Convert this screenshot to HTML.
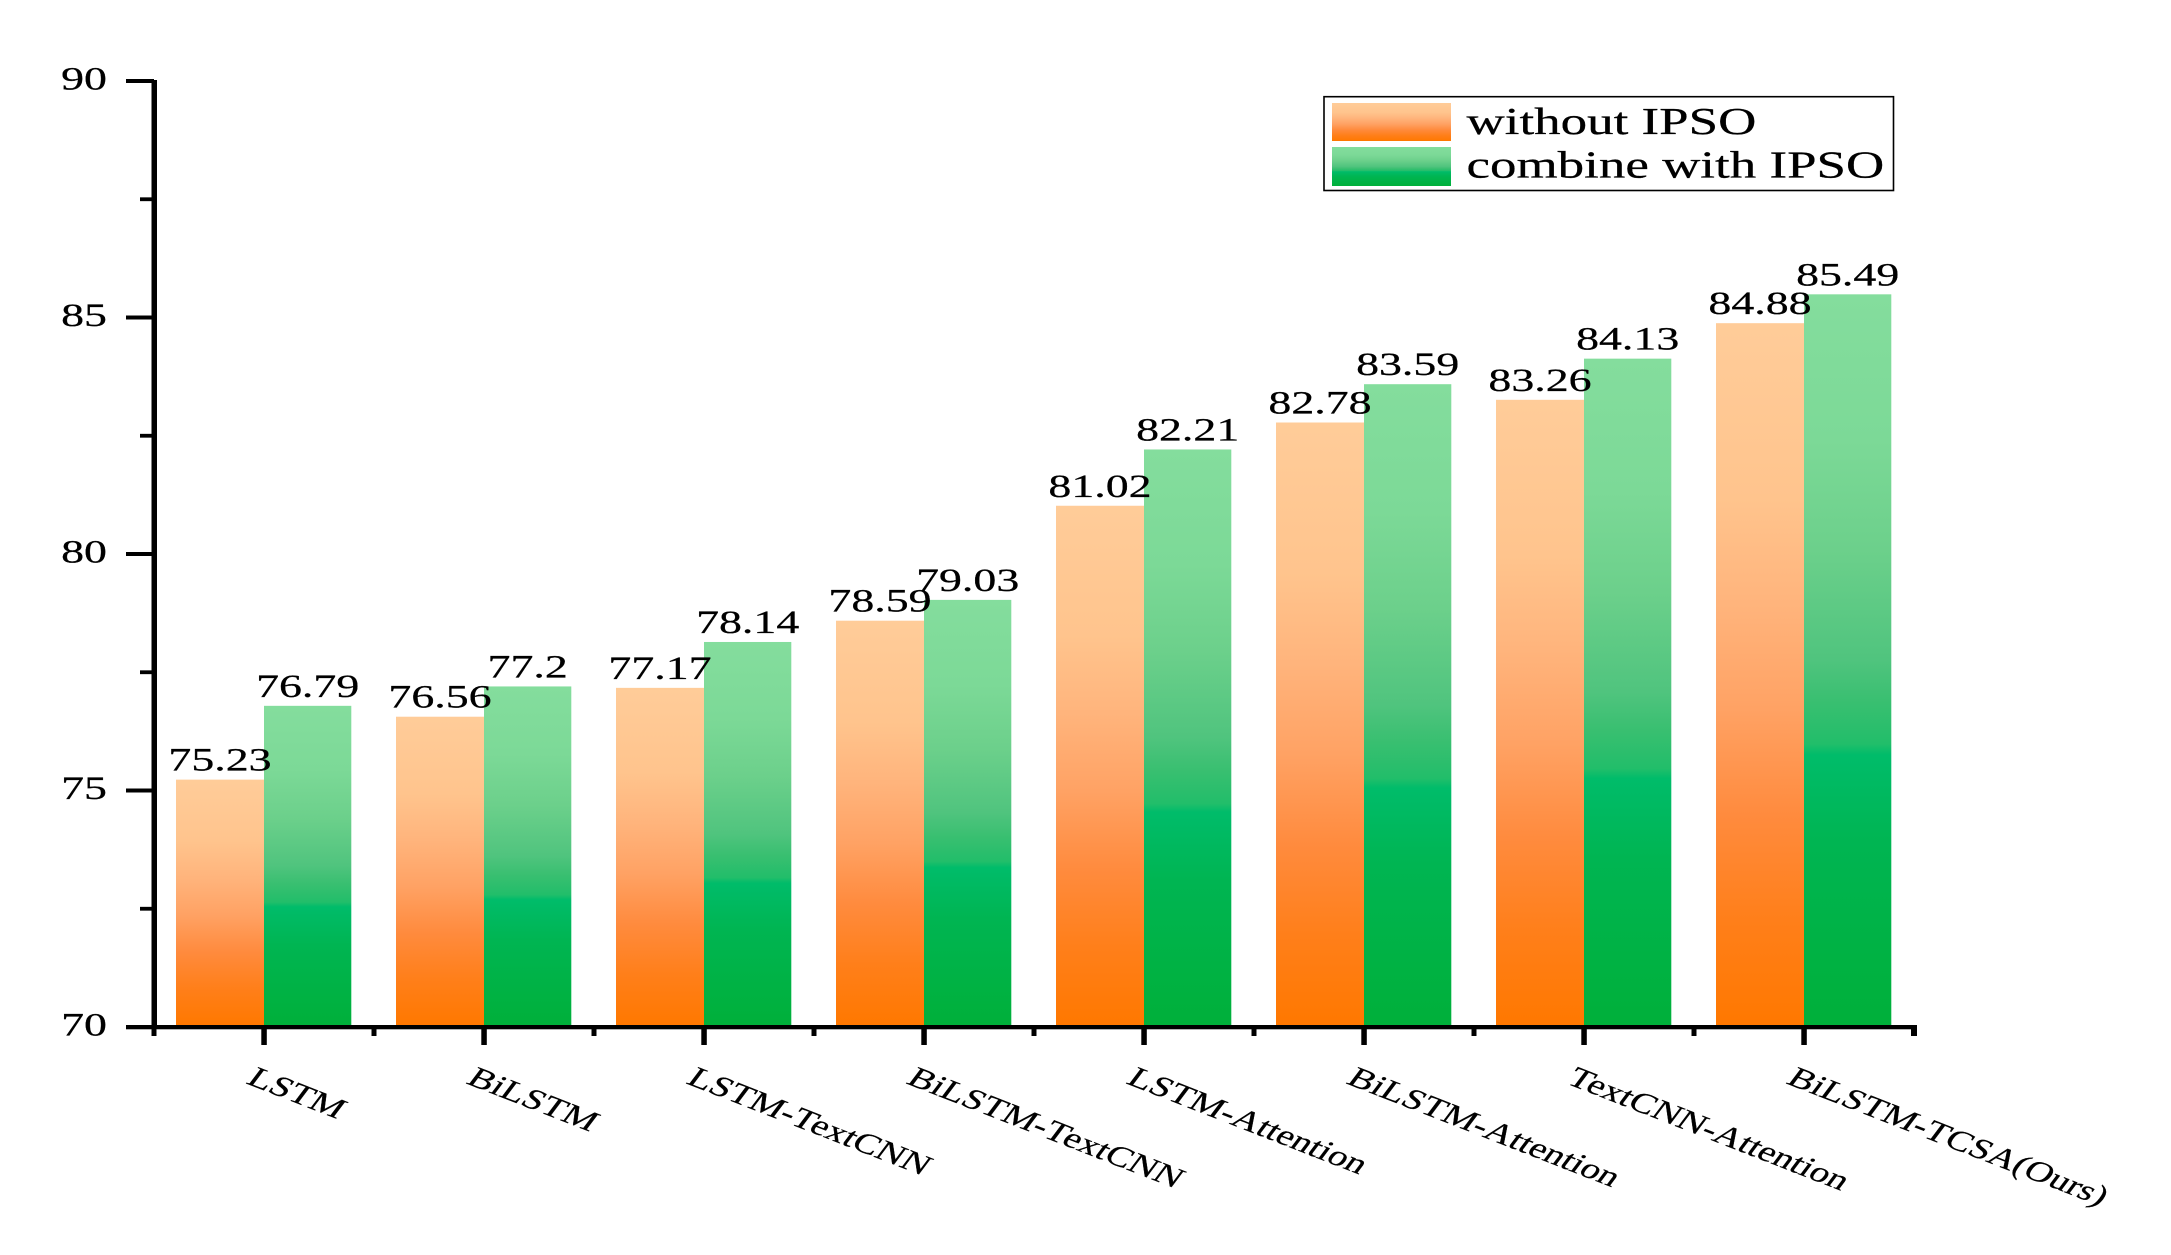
<!DOCTYPE html>
<html lang="en">
<head>
<meta charset="utf-8">
<title>Model comparison with and without IPSO</title>
<style>
  html, body { margin: 0; padding: 0; background: #fff; }
  svg { display: block; font-family: "Liberation Serif", serif; fill: #000; }
  text { stroke: #000; stroke-width: 0.25; }
</style>
</head>
<body>
<svg id="chart" xmlns="http://www.w3.org/2000/svg" width="2171" height="1255" viewBox="0 0 2171 1255">
  <defs>
    <linearGradient id="grad-orange" x1="0" y1="0" x2="0" y2="1">
      <stop offset="0" stop-color="#FFCC99"/>
      <stop offset="0.25" stop-color="#FFC48D"/>
      <stop offset="0.4" stop-color="#FFB47C"/>
      <stop offset="0.55" stop-color="#FFA264"/>
      <stop offset="0.7" stop-color="#FF8B3E"/>
      <stop offset="0.85" stop-color="#FF7F1A"/>
      <stop offset="1" stop-color="#FF7800"/>
    </linearGradient>
    <linearGradient id="grad-green" x1="0" y1="0" x2="0" y2="1">
      <stop offset="0" stop-color="#84DD9D"/>
      <stop offset="0.2" stop-color="#7CD997"/>
      <stop offset="0.35" stop-color="#6CD08B"/>
      <stop offset="0.5" stop-color="#50C47E"/>
      <stop offset="0.56" stop-color="#38BF70"/>
      <stop offset="0.615" stop-color="#22BE6A"/>
      <stop offset="0.63" stop-color="#00BC6A"/>
      <stop offset="0.75" stop-color="#00B552"/>
      <stop offset="1" stop-color="#00B03A"/>
    </linearGradient>
  </defs>
  <g id="bars"></g>
  <g id="value-labels"></g>
  <g id="axes"></g>
  <g id="legend">
    <rect x="1324" y="96.7" width="569.5" height="93.8" fill="#fff" stroke="#000" stroke-width="1.6"/>
    <rect x="1332" y="103" width="119" height="38" fill="url(#grad-orange)"/>
    <rect x="1332" y="147" width="119" height="39" fill="url(#grad-green)"/>
    <text transform="translate(1466.5 134) scale(1.39 1)" font-size="38.1">without IPSO</text>
    <text transform="translate(1466.5 177.3) scale(1.39 1)" font-size="38.1">combine with IPSO</text>
  </g>
</svg>
<script>
const categories = ["LSTM", "BiLSTM", "LSTM-TextCNN", "BiLSTM-TextCNN", "LSTM-Attention", "BiLSTM-Attention", "TextCNN-Attention", "BiLSTM-TCSA(Ours)"];
const withoutIpso = [75.23, 76.56, 77.17, 78.59, 81.02, 82.78, 83.26, 84.88];
const withIpso = [76.79, 77.2, 78.14, 79.03, 82.21, 83.59, 84.13, 85.49];
const yMajorTicks = [70, 75, 80, 85, 90];
const yMinorTicks = [72.5, 77.5, 82.5, 87.5];

const NS = "http://www.w3.org/2000/svg";
const STRETCH = 1.39;
const yAxis = v => 1027 - (v - 70) * 47.3;
const xCenter = i => 264 + i * 220;
const ORANGE_W = 88;
const GREEN_W = 87.3;
const BASE_Y = 1025;

function make(tag, attrs, parent, text) {
  const el = document.createElementNS(NS, tag);
  for (const k in attrs) el.setAttribute(k, attrs[k]);
  if (text !== undefined) el.textContent = text;
  parent.appendChild(el);
  return el;
}

const barsG = document.getElementById("bars");
const labelsG = document.getElementById("value-labels");
const axesG = document.getElementById("axes");

function drawBar(i, v, left, fill, key) {
  const y = yAxis(v);
  const w = left ? ORANGE_W : GREEN_W;
  const x = left ? xCenter(i) - ORANGE_W : xCenter(i);
  const r = make("rect", { x: x, y: y, width: w, height: Math.max(0, BASE_Y - y), fill: fill }, barsG);
  
  
  r.setAttribute('data-series', key);
  const t = make("text", { transform: "translate(" + (x + w / 2) + " " + (y - 9) + ") scale(" + STRETCH + " 1)", "text-anchor": "middle", "font-size": 33 }, labelsG, String(v));
  
  
}

categories.forEach((c, i) => {
  drawBar(i, withoutIpso[i], true, "url(#grad-orange)", "without-ipso");
  drawBar(i, withIpso[i], false, "url(#grad-green)", "combine-with-ipso");
});

const yLine = make("rect", { x: 151.5, y: 80, width: 5.5, height: 949 }, axesG);


const xLine = make("rect", { x: 126, y: 1025, width: 1791, height: 4.3 }, axesG);



yMajorTicks.forEach(v => {
  const y = yAxis(v);
  const tick = make("rect", { x: 126, y: y - 2, width: 28, height: 4 }, axesG);
  
  
  const t = make("text", { transform: "translate(84 " + (y + 8.5) + ") scale(" + STRETCH + " 1)", "text-anchor": "middle", "font-size": 33 }, axesG, String(v));
  
  
});
yMinorTicks.forEach(v => {
  const y = yAxis(v);
  const tick = make("rect", { x: 140, y: y - 1.9, width: 14, height: 3.8 }, axesG);
  
  
});

categories.forEach((c, i) => {
  const cx = xCenter(i);
  const major = make("rect", { x: cx - 2.7, y: 1027, width: 5.5, height: 18 }, axesG);
  
  
  const minor = make("rect", { x: cx - 112.5, y: 1027, width: 5, height: 9 }, axesG);
  
  
  const t = make("text", { transform: "translate(" + (cx - 19) + " 1083) scale(" + STRETCH + " 1) rotate(28.5)", "font-size": 28.3 }, axesG, c);
  
  
});
const endTick = make("rect", { x: 1911, y: 1027, width: 6, height: 9 }, axesG);


</script>
</body>
</html>
